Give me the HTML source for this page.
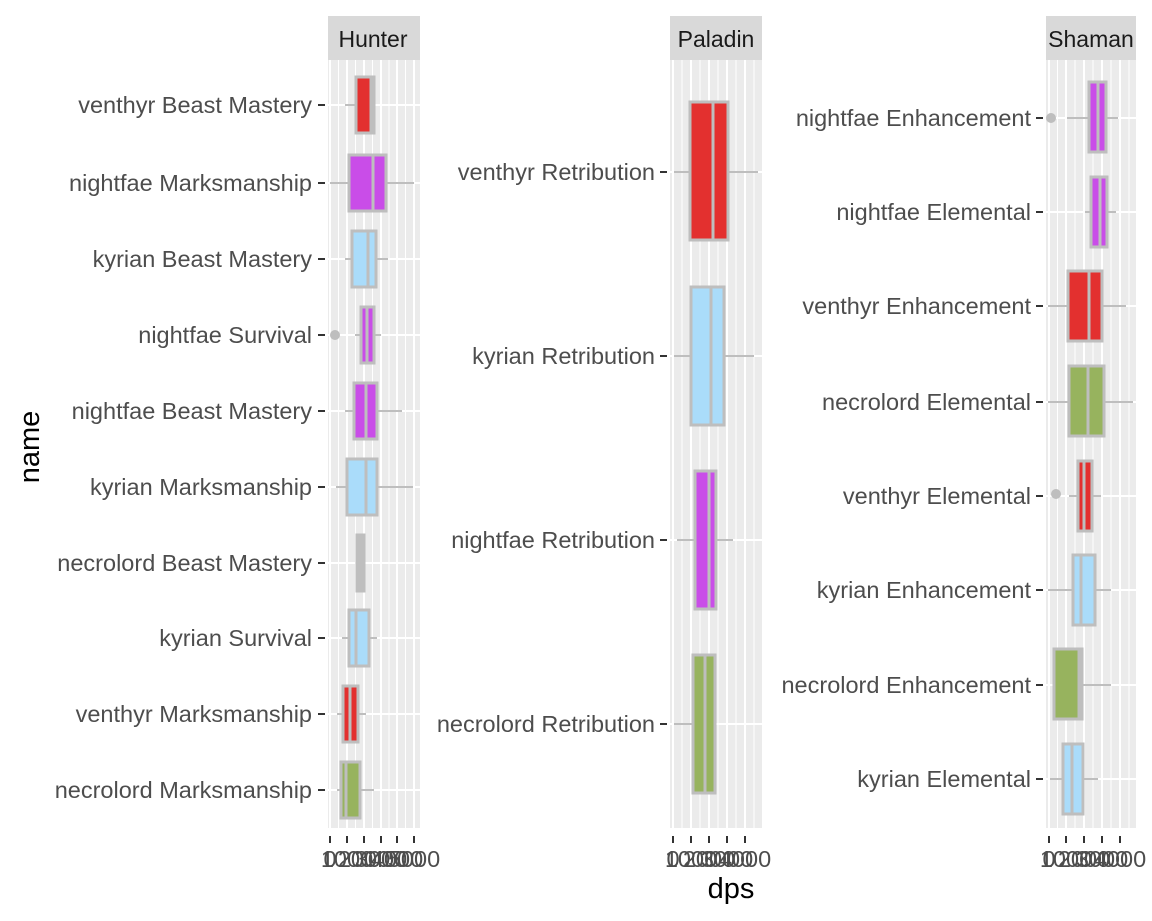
<!DOCTYPE html>
<html><head><meta charset="utf-8"><style>body{margin:0;background:#fff}svg{display:block}text{font-family:"Liberation Sans",sans-serif}</style></head><body>
<svg width="1152" height="921" viewBox="0 0 1152 921" xmlns="http://www.w3.org/2000/svg">
<g id="h">
<rect x="328" y="16" width="92" height="44" fill="#d9d9d9"/>
<text x="373" y="47" font-size="23" text-anchor="middle" fill="#1a1a1a">Hunter</text>
<rect x="328" y="60" width="92" height="768" fill="#ebebeb"/>
<g stroke="#fff" stroke-width="1">
<line x1="338.5" y1="60" x2="338.5" y2="828"/><line x1="355.5" y1="60" x2="355.5" y2="828"/><line x1="372.5" y1="60" x2="372.5" y2="828"/><line x1="389" y1="60" x2="389" y2="828"/><line x1="405.5" y1="60" x2="405.5" y2="828"/>
</g>
<g stroke="#fff" stroke-width="2">
<line x1="330" y1="60" x2="330" y2="828"/><line x1="347" y1="60" x2="347" y2="828"/><line x1="364" y1="60" x2="364" y2="828"/><line x1="381" y1="60" x2="381" y2="828"/><line x1="397" y1="60" x2="397" y2="828"/><line x1="414" y1="60" x2="414" y2="828"/>
<line x1="328" y1="105" x2="420" y2="105"/><line x1="328" y1="183" x2="420" y2="183"/><line x1="328" y1="259" x2="420" y2="259"/><line x1="328" y1="335" x2="420" y2="335"/><line x1="328" y1="411" x2="420" y2="411"/><line x1="328" y1="487" x2="420" y2="487"/><line x1="328" y1="563" x2="420" y2="563"/><line x1="328" y1="638" x2="420" y2="638"/><line x1="328" y1="714" x2="420" y2="714"/><line x1="328" y1="790" x2="420" y2="790"/>
</g>
</g>
<g id="p">
<rect x="670" y="16" width="92" height="44" fill="#d9d9d9"/>
<text x="716" y="47" font-size="23" text-anchor="middle" fill="#1a1a1a">Paladin</text>
<rect x="670" y="60" width="92" height="768" fill="#ebebeb"/>
<g stroke="#fff" stroke-width="1">
<line x1="682" y1="60" x2="682" y2="828"/><line x1="700" y1="60" x2="700" y2="828"/><line x1="718" y1="60" x2="718" y2="828"/><line x1="736" y1="60" x2="736" y2="828"/><line x1="754" y1="60" x2="754" y2="828"/>
</g>
<g stroke="#fff" stroke-width="2">
<line x1="673" y1="60" x2="673" y2="828"/><line x1="691" y1="60" x2="691" y2="828"/><line x1="709" y1="60" x2="709" y2="828"/><line x1="727" y1="60" x2="727" y2="828"/><line x1="745" y1="60" x2="745" y2="828"/>
<line x1="670" y1="172" x2="762" y2="172"/><line x1="670" y1="356" x2="762" y2="356"/><line x1="670" y1="540" x2="762" y2="540"/><line x1="670" y1="724" x2="762" y2="724"/>
</g>
</g>
<g id="s">
<rect x="1046" y="16" width="90" height="44" fill="#d9d9d9"/>
<text x="1091" y="47" font-size="23" text-anchor="middle" fill="#1a1a1a">Shaman</text>
<rect x="1046" y="60" width="90" height="768" fill="#ebebeb"/>
<g stroke="#fff" stroke-width="1">
<line x1="1057.5" y1="60" x2="1057.5" y2="828"/><line x1="1075" y1="60" x2="1075" y2="828"/><line x1="1093" y1="60" x2="1093" y2="828"/><line x1="1111" y1="60" x2="1111" y2="828"/><line x1="1129" y1="60" x2="1129" y2="828"/>
</g>
<g stroke="#fff" stroke-width="2">
<line x1="1049" y1="60" x2="1049" y2="828"/><line x1="1066" y1="60" x2="1066" y2="828"/><line x1="1084" y1="60" x2="1084" y2="828"/><line x1="1102" y1="60" x2="1102" y2="828"/><line x1="1120" y1="60" x2="1120" y2="828"/>
<line x1="1046" y1="118" x2="1136" y2="118"/><line x1="1046" y1="212" x2="1136" y2="212"/><line x1="1046" y1="306" x2="1136" y2="306"/><line x1="1046" y1="402" x2="1136" y2="402"/><line x1="1046" y1="496" x2="1136" y2="496"/><line x1="1046" y1="590" x2="1136" y2="590"/><line x1="1046" y1="685" x2="1136" y2="685"/><line x1="1046" y1="779" x2="1136" y2="779"/>
</g>
</g>
<g stroke="#bebebe" stroke-width="3">
<line x1="345" y1="105" x2="356" y2="105" stroke-width="2"/><rect x="356" y="77" width="18" height="56" fill="#e3302f"/><line x1="371" y1="77" x2="371" y2="133"/>
<line x1="330" y1="183" x2="414" y2="183" stroke-width="2"/><rect x="349" y="155" width="37" height="56" fill="#c94de8"/><line x1="373" y1="155" x2="373" y2="211"/>
<line x1="345" y1="259" x2="388" y2="259" stroke-width="2"/><rect x="352" y="231" width="24" height="56" fill="#aadcfa"/><line x1="368" y1="231" x2="368" y2="287"/>
<line x1="355" y1="335" x2="381" y2="335" stroke-width="2"/><rect x="361" y="307" width="13" height="56" fill="#c94de8"/><line x1="367" y1="307" x2="367" y2="363"/>
<circle cx="335" cy="335" r="5" fill="#bebebe" stroke="none"/>
<line x1="345" y1="411" x2="402" y2="411" stroke-width="2"/><rect x="354" y="383" width="23" height="56" fill="#c94de8"/><line x1="366" y1="383" x2="366" y2="439"/>
<line x1="336" y1="487" x2="413" y2="487" stroke-width="2"/><rect x="347" y="459" width="30" height="56" fill="#aadcfa"/><line x1="366" y1="459" x2="366" y2="515"/>
<rect x="357" y="535" width="7" height="56" fill="#bebebe"/>
<line x1="342" y1="638" x2="377" y2="638" stroke-width="2"/><rect x="349" y="610" width="20" height="56" fill="#aadcfa"/><line x1="356" y1="610" x2="356" y2="666"/>
<line x1="337" y1="714" x2="366" y2="714" stroke-width="2"/><rect x="343" y="686" width="15" height="56" fill="#e3302f"/><line x1="350" y1="686" x2="350" y2="742"/>
<line x1="337" y1="790" x2="374" y2="790" stroke-width="2"/><rect x="341" y="762" width="19" height="56" fill="#97b35e"/><line x1="346" y1="762" x2="346" y2="818"/>
<line x1="674" y1="172" x2="758" y2="172" stroke-width="2"/><rect x="690" y="102" width="38" height="138" fill="#e3302f"/><line x1="713" y1="102" x2="713" y2="240"/>
<line x1="674" y1="356" x2="754" y2="356" stroke-width="2"/><rect x="691" y="287" width="33" height="138" fill="#aadcfa"/><line x1="711" y1="287" x2="711" y2="425"/>
<line x1="677" y1="540" x2="733" y2="540" stroke-width="2"/><rect x="695" y="471" width="21" height="138" fill="#c94de8"/><line x1="709" y1="471" x2="709" y2="609"/>
<line x1="674" y1="724" x2="693" y2="724" stroke-width="2"/><rect x="693" y="655" width="22" height="138" fill="#97b35e"/><line x1="705" y1="655" x2="705" y2="793"/>
<line x1="1067" y1="118" x2="1118" y2="118" stroke-width="2"/><rect x="1089" y="82" width="17" height="70" fill="#c94de8"/><line x1="1098" y1="82" x2="1098" y2="152"/>
<circle cx="1051" cy="118" r="5" fill="#bebebe" stroke="none"/>
<line x1="1085" y1="212" x2="1116" y2="212" stroke-width="2"/><rect x="1091" y="177" width="16" height="70" fill="#c94de8"/><line x1="1100" y1="177" x2="1100" y2="247"/>
<line x1="1048" y1="306" x2="1126" y2="306" stroke-width="2"/><rect x="1068" y="271" width="34" height="70" fill="#e3302f"/><line x1="1089" y1="271" x2="1089" y2="341"/>
<line x1="1048" y1="402" x2="1133" y2="402" stroke-width="2"/><rect x="1069" y="366" width="35" height="70" fill="#97b35e"/><line x1="1088" y1="366" x2="1088" y2="436"/>
<line x1="1069" y1="496" x2="1101" y2="496" stroke-width="2"/><rect x="1078" y="461" width="14" height="70" fill="#e3302f"/><line x1="1084" y1="461" x2="1084" y2="531"/>
<circle cx="1056" cy="494" r="5" fill="#bebebe" stroke="none"/>
<line x1="1048" y1="590" x2="1111" y2="590" stroke-width="2"/><rect x="1073" y="555" width="22" height="70" fill="#aadcfa"/><line x1="1081" y1="555" x2="1081" y2="625"/>
<line x1="1082" y1="685" x2="1111" y2="685" stroke-width="2"/><rect x="1054" y="649" width="28" height="70" fill="#97b35e"/><line x1="1079" y1="649" x2="1079" y2="719"/>
<line x1="1050" y1="779" x2="1098" y2="779" stroke-width="2"/><rect x="1063" y="744" width="20" height="70" fill="#aadcfa"/><line x1="1072" y1="744" x2="1072" y2="814"/>
</g>
<g stroke="#333" stroke-width="2">
<line x1="318" y1="105" x2="325" y2="105"/><line x1="318" y1="183" x2="325" y2="183"/><line x1="318" y1="259" x2="325" y2="259"/><line x1="318" y1="335" x2="325" y2="335"/><line x1="318" y1="411" x2="325" y2="411"/><line x1="318" y1="487" x2="325" y2="487"/><line x1="318" y1="563" x2="325" y2="563"/><line x1="318" y1="638" x2="325" y2="638"/><line x1="318" y1="714" x2="325" y2="714"/><line x1="318" y1="790" x2="325" y2="790"/>
<line x1="660" y1="172" x2="667" y2="172"/><line x1="660" y1="356" x2="667" y2="356"/><line x1="660" y1="540" x2="667" y2="540"/><line x1="660" y1="724" x2="667" y2="724"/>
<line x1="1036" y1="118" x2="1043" y2="118"/><line x1="1036" y1="212" x2="1043" y2="212"/><line x1="1036" y1="306" x2="1043" y2="306"/><line x1="1036" y1="402" x2="1043" y2="402"/><line x1="1036" y1="496" x2="1043" y2="496"/><line x1="1036" y1="590" x2="1043" y2="590"/><line x1="1036" y1="685" x2="1043" y2="685"/><line x1="1036" y1="779" x2="1043" y2="779"/>
<line x1="330" y1="836" x2="330" y2="843"/><line x1="347" y1="836" x2="347" y2="843"/><line x1="364" y1="836" x2="364" y2="843"/><line x1="381" y1="836" x2="381" y2="843"/><line x1="397" y1="836" x2="397" y2="843"/><line x1="414" y1="836" x2="414" y2="843"/>
<line x1="673" y1="836" x2="673" y2="843"/><line x1="691" y1="836" x2="691" y2="843"/><line x1="709" y1="836" x2="709" y2="843"/><line x1="727" y1="836" x2="727" y2="843"/><line x1="745" y1="836" x2="745" y2="843"/>
<line x1="1049" y1="836" x2="1049" y2="843"/><line x1="1066" y1="836" x2="1066" y2="843"/><line x1="1084" y1="836" x2="1084" y2="843"/><line x1="1102" y1="836" x2="1102" y2="843"/><line x1="1120" y1="836" x2="1120" y2="843"/>
</g>
<g font-size="23.5" fill="#4d4d4d" text-anchor="end">
<text x="312" y="113">venthyr Beast Mastery</text><text x="312" y="191">nightfae Marksmanship</text><text x="312" y="267">kyrian Beast Mastery</text><text x="312" y="343">nightfae Survival</text><text x="312" y="419">nightfae Beast Mastery</text><text x="312" y="495">kyrian Marksmanship</text><text x="312" y="571">necrolord Beast Mastery</text><text x="312" y="646">kyrian Survival</text><text x="312" y="722">venthyr Marksmanship</text><text x="312" y="798">necrolord Marksmanship</text>
<text x="655" y="180">venthyr Retribution</text><text x="655" y="364">kyrian Retribution</text><text x="655" y="548">nightfae Retribution</text><text x="655" y="732">necrolord Retribution</text>
<text x="1031" y="126">nightfae Enhancement</text><text x="1031" y="220">nightfae Elemental</text><text x="1031" y="314">venthyr Enhancement</text><text x="1031" y="410">necrolord Elemental</text><text x="1031" y="504">venthyr Elemental</text><text x="1031" y="598">kyrian Enhancement</text><text x="1031" y="693">necrolord Enhancement</text><text x="1031" y="787">kyrian Elemental</text>
</g>
<g font-size="23.5" fill="#4d4d4d" text-anchor="middle">
<text x="330" y="867">0</text><text x="347" y="867">1000</text><text x="364" y="867">2000</text><text x="381" y="867">3000</text><text x="397" y="867">4000</text><text x="414" y="867">5000</text>
<text x="673" y="867">0</text><text x="691" y="867">1000</text><text x="709" y="867">2000</text><text x="727" y="867">3000</text><text x="745" y="867">4000</text>
<text x="1049" y="867">0</text><text x="1066" y="867">1000</text><text x="1084" y="867">2000</text><text x="1102" y="867">3000</text><text x="1120" y="867">4000</text>
</g>
<text x="731" y="898" font-size="29" text-anchor="middle" fill="#000">dps</text>
<text transform="translate(39,447) rotate(-90)" font-size="29" text-anchor="middle" fill="#000">name</text>
</svg>
</body></html>
